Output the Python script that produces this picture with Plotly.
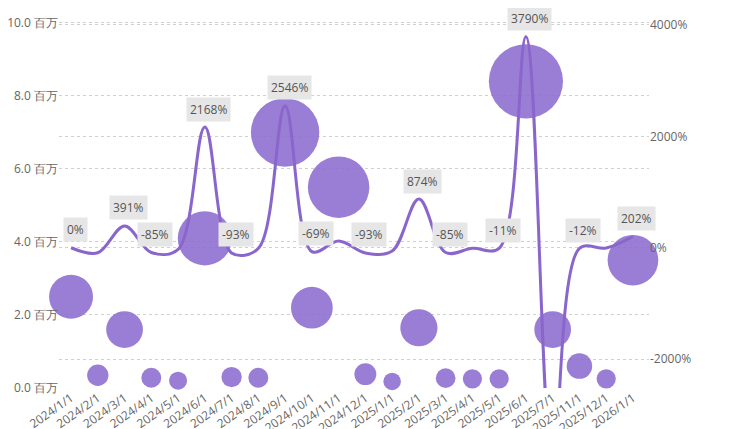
import plotly.graph_objects as go
import numpy as np

categories = ["2024/1/1","2024/2/1","2024/3/1","2024/4/1","2024/5/1","2024/6/1","2024/7/1","2024/8/1",
              "2024/9/1","2024/10/1","2024/11/1","2024/12/1","2025/1/1","2025/2/1","2025/3/1","2025/4/1",
              "2025/5/1","2025/6/1","2025/7/1","2025/11/1","2025/12/1","2026/1/1"]
values_m = [2.5,0.35,1.6,0.28,0.2,4.1,0.3,0.28,7.0,2.2,5.5,0.38,0.18,1.65,0.27,0.25,0.25,8.4,1.6,0.6,0.25,3.5]
growth = [0,-90,391,-85,-30,2168,-93,-10,2546,-69,120,-93,-60,874,-85,-10,-11,3790,-3858,-12,-5,202]
labels = ["0%","","391%","-85%","","2168%","-93%","","2546%","-69%","","-93%","","874%","-85%","","-11%",
          "3790%","-3858%","-12%","","202%"]

purple = "#8a66cc"
sizes = [7.8 + 22.9*np.sqrt(v) for v in values_m]

fig = go.Figure()
fig.add_trace(go.Scatter(x=categories, y=values_m, mode="markers",
    marker=dict(size=sizes, color="#8c6ccf", opacity=0.88, line=dict(width=0)),
    showlegend=False, cliponaxis=False))
fig.add_trace(go.Scatter(x=categories, y=growth, yaxis="y2", mode="lines",
    line=dict(color=purple, width=3, shape="spline", smoothing=1.0), showlegend=False))

for c, g, t in zip(categories, growth, labels):
    if t:
        fig.add_annotation(x=c, y=g, xref="x", yref="y2", text=t, showarrow=False,
            yshift=18 if g > -1000 else -10, xshift=4, bgcolor="#e6e6e6", borderpad=3,
            font=dict(size=12, color="#555555", family="Open Sans"))

fig.update_layout(
    width=744, height=429, margin=dict(l=51, r=103, t=12, b=49, autoexpand=False),
    plot_bgcolor="white", paper_bgcolor="white",
    font=dict(family="Open Sans", size=12, color="#666666"),
    xaxis=dict(type="category", range=[-0.45, 21.6], tickangle=-35, showgrid=False,
               tickfont=dict(size=12, color="#666666"), automargin=False),
    yaxis=dict(range=[0, 10.08], tickvals=[0,2,4,6,8,10],
               ticktext=["0.0 百万","2.0 百万","4.0 百万","6.0 百万","8.0 百万","10.0 百万"],
               showgrid=True, gridcolor="#d0d0d0", griddash="dot", zeroline=False, automargin=False),
    yaxis2=dict(overlaying="y", side="right", range=[-2518, 4089], tickvals=[-2000,0,2000,4000],
                ticktext=["-2000%","0%","2000%","4000%"], showgrid=True, gridcolor="#d0d0d0",
                griddash="dot", zeroline=False, automargin=False),
)
fig.write_html("out.html")
